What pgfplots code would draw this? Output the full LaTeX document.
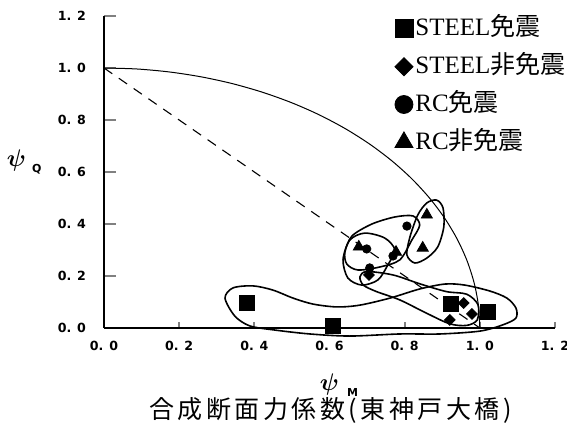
\documentclass[border=0pt]{standalone}
\usepackage{fontspec}
\setmainfont{Liberation Serif}
\newfontfamily\cjk{Noto Sans CJK JP}
\newfontfamily\cjkcap{Noto Sans CJK JP}[LetterSpace=14]
\newfontfamily\tickfont{DejaVu Sans}
\newfontfamily\subfont{DejaVu Sans}
\usepackage{bm}
\usepackage{pgfplots}
\pgfplotsset{compat=1.18}
\begin{document}
\begin{tikzpicture}
\useasboundingbox (0,0) rectangle (283.5pt,213pt);
\begin{axis}[
  at={(52pt,49pt)}, anchor=south west,
  scale only axis, width=225.5pt, height=156pt,
  xmin=0, xmax=1.2, ymin=0, ymax=1.2,
  axis lines=left,
  axis line style={-, line width=1.2pt},
  clip=false,
  xtick={0,0.2,0.4,0.6,0.8,1.0,1.2},
  ytick={0,0.2,0.4,0.6,0.8,1.0,1.2},
  xticklabels={0. 0,0. 2,0. 4,0. 6,0. 8,1. 0,1. 2},
  yticklabels={0. 0,0. 2,0. 4,0. 6,0. 8,1. 0,1. 2},
  tick align=inside,
  xtick style={line width=0.9pt, /pgfplots/major tick length=3pt},
  ytick style={line width=0.9pt, /pgfplots/major tick length=6pt},
  tick label style={font=\tickfont\bfseries\fontsize{6.3}{7}\selectfont},
  xticklabel style={yshift=-3pt},
  yticklabel style={anchor=east, xshift=-5.5pt},
  xlabel={\fontsize{11.5}{12}\selectfont$\bm{\psi}$\hspace{4pt}\raisebox{-3pt}{\subfont\bfseries\fontsize{5.5}{6}\selectfont M}},
  xlabel style={at={(axis description cs:0.521,-0.182)}, anchor=center, inner sep=0pt},
  ylabel={\fontsize{11.5}{12}\selectfont$\bm{\psi}$\hspace{3pt}\raisebox{-3pt}{\subfont\bfseries\fontsize{5.5}{6}\selectfont Q}},
  ylabel style={rotate=-90, at={(axis description cs:-0.177,0.532)}, anchor=center},
  legend style={at={(0.645,1.008)}, anchor=north west, draw=none, fill=none,
    inner sep=0pt, outer sep=0pt, row sep=3.5pt, column sep=0pt,
    font=\fontsize{12.5}{14}\selectfont,
    nodes={inner sep=1.2pt, text height=10pt, text depth=3pt}},
  legend cell align=left,
  legend image code/.code={\draw[#1] plot coordinates {(0pt,0pt)};},
]
% reference curves
\addplot[black, line width=0.5pt, smooth, forget plot] coordinates {
(1,0) (0.9962,0.0872) (0.9848,0.1736) (0.9659,0.2588) (0.9397,0.3420)
(0.9063,0.4226) (0.8660,0.5) (0.8192,0.5736) (0.7660,0.6428) (0.7071,0.7071)
(0.6428,0.7660) (0.5736,0.8192) (0.5,0.8660) (0.4226,0.9063) (0.3420,0.9397)
(0.2588,0.9659) (0.1736,0.9848) (0.0872,0.9962) (0,1)};
\addplot[black, line width=0.55pt, dash pattern=on 5pt off 4pt, forget plot] coordinates {(0,1) (1,0)};
% hand-drawn groupings
\addplot[black, line width=0.8pt, smooth cycle, forget plot] coordinates {
(0.322,0.115) (0.343,0.154) (0.396,0.162) (0.449,0.146) (0.503,0.115) (0.556,0.092)
(0.620,0.081) (0.681,0.088) (0.761,0.115) (0.840,0.150) (0.907,0.169) (0.960,0.165)
(1.027,0.142) (1.072,0.115) (1.096,0.077) (1.096,0.038) (1.061,0.012) (1.000,-0.012)
(0.894,-0.023) (0.787,-0.023) (0.654,-0.031) (0.548,-0.023) (0.455,-0.008) (0.388,0.008)
(0.348,0.046)};
\addplot[black, line width=0.8pt, smooth cycle, forget plot] coordinates {
(0.681,0.197) (0.699,0.217) (0.769,0.204) (0.840,0.170) (0.911,0.140) (0.965,0.130)
(0.995,0.090) (0.993,0.031) (0.965,0.010) (0.920,0.016) (0.858,0.057) (0.787,0.108)
(0.725,0.140) (0.690,0.165)};
\addplot[black, line width=0.8pt, smooth cycle, forget plot] coordinates {
(0.641,0.292) (0.660,0.354) (0.713,0.400) (0.774,0.427) (0.822,0.431) (0.840,0.396)
(0.819,0.338) (0.787,0.262) (0.735,0.235) (0.676,0.223) (0.646,0.246)};
\addplot[black, line width=0.8pt, smooth cycle, forget plot] coordinates {
(0.885,0.492) (0.902,0.462) (0.904,0.388) (0.888,0.312) (0.859,0.269) (0.827,0.250)
(0.806,0.281) (0.814,0.350) (0.835,0.435) (0.859,0.481)};
\addplot[black, line width=0.8pt, smooth cycle, forget plot] coordinates {
(0.654,0.338) (0.694,0.365) (0.747,0.346) (0.774,0.300) (0.755,0.242) (0.729,0.185)
(0.686,0.165) (0.649,0.192) (0.636,0.262)};
% data
\addplot[only marks, black, mark=square*, mark size=3.6pt, forget plot] coordinates {
(0.380,0.096) (0.609,0.008) (0.923,0.092) (1.021,0.062)};
\addplot[only marks, black, mark=square*, mark options={rotate=45}, mark size=1.9pt, forget plot] coordinates {
(0.705,0.204) (0.920,0.031) (0.957,0.096) (0.979,0.054)};
\addplot[only marks, black, mark=*, mark size=2.1pt, forget plot] coordinates {
(0.699,0.304) (0.707,0.231) (0.769,0.277) (0.806,0.392)};
\addplot[only marks, black, mark=triangle*, mark size=3.2pt, forget plot] coordinates {
(0.678,0.312) (0.777,0.292) (0.848,0.308) (0.859,0.435)};
% legend
\addlegendimage{black, mark=square*, mark size=4.5pt}
\addlegendentry{STEEL{\cjk 免震}}
\addlegendimage{black, mark=square*, mark options={rotate=45}, mark size=3.2pt}
\addlegendentry{STEEL{\cjk 非免震}}
\addlegendimage{black, mark=*, mark size=4.5pt}
\addlegendentry{RC{\cjk 免震}}
\addlegendimage{black, mark=triangle*, mark size=5.2pt}
\addlegendentry{RC{\cjk 非免震}}
\node[font=\cjkcap\fontsize{12.5}{13}\selectfont, inner sep=0pt] at (axis description cs:0.502,-0.265) {合成断面力係数(東神戸大橋)};
\end{axis}
\end{tikzpicture}
\end{document}
